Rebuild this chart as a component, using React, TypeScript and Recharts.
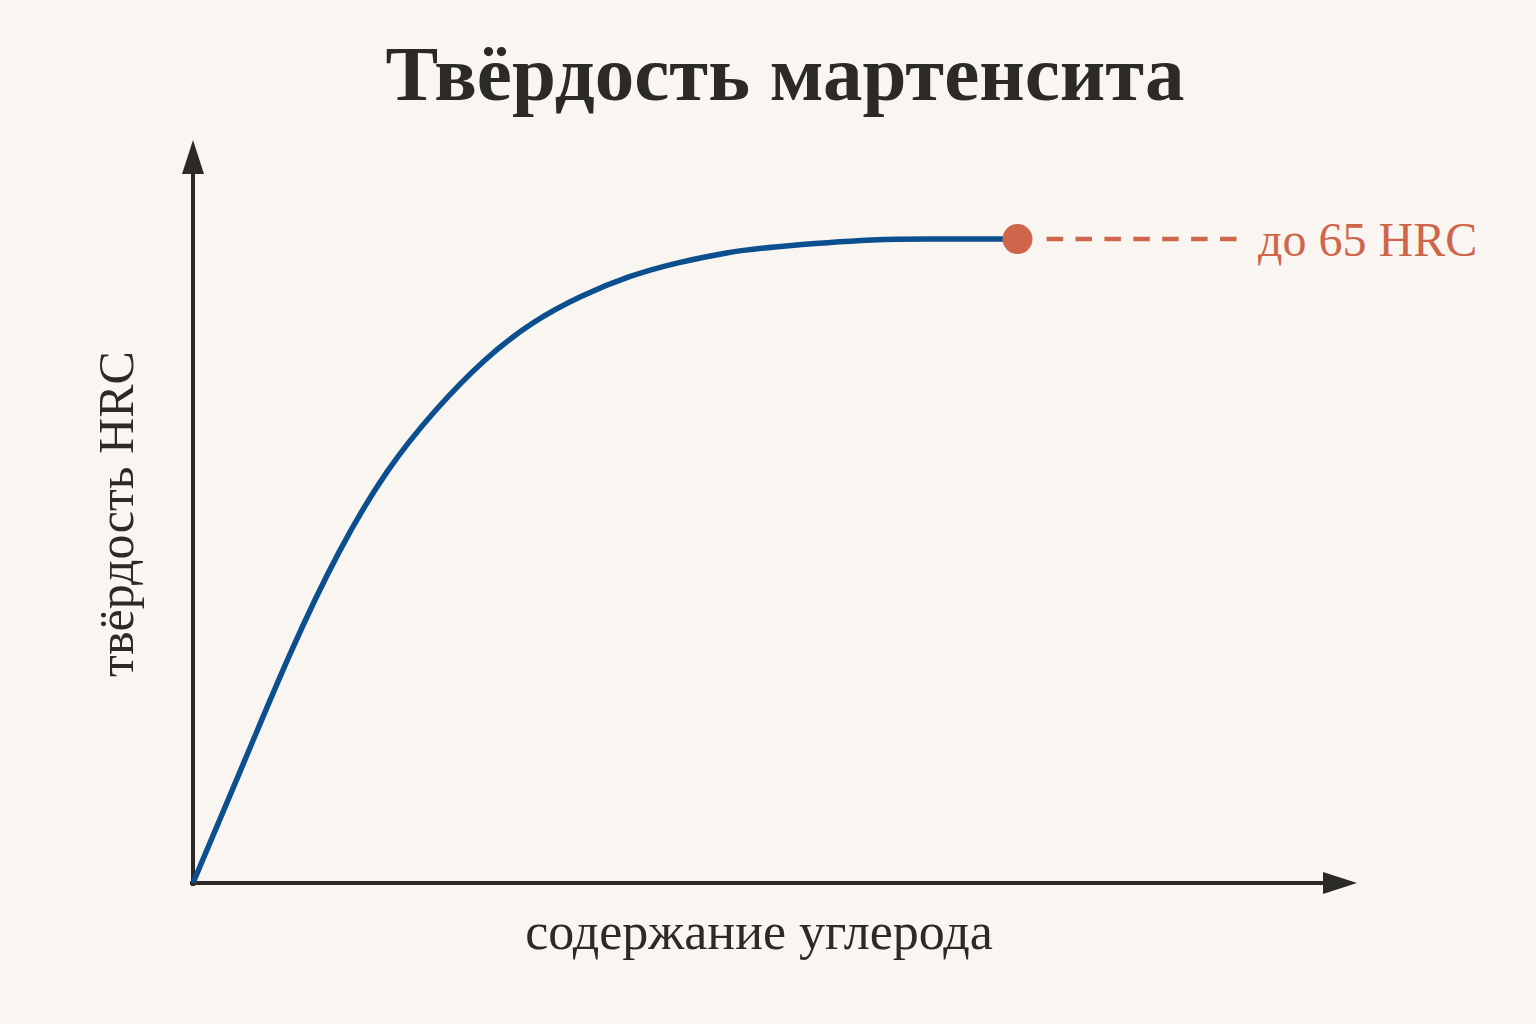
import { ComposedChart, Line, XAxis, YAxis, ReferenceLine, ReferenceDot } from "recharts";

// carbon content (%) vs martensite hardness (HRC)
const carbon = [0, 0.05, 0.1, 0.15, 0.2, 0.25, 0.3, 0.35, 0.4, 0.45, 0.5, 0.55, 0.6, 0.7, 0.78, 0.85];
const hardness = [0, 11.6, 23.1, 33.3, 41.5, 47.7, 52.7, 56.5, 59.2, 61.2, 62.6, 63.6, 64.2, 64.9, 65, 65];

const xDomain = [0, 1.2];
const yDomain = [0, 75];
const maxPoint = { x: 0.85, y: 65 };
const dashStart = 0.88;
const dashEnd = 1.077;
const labelX = 1.098;
const maxLabel = "до 65 HRC";

const title = "Твёрдость мартенсита";
const xTitle = "содержание углерода";
const yTitle = "твёрдость HRC";

const data = carbon.map((c, i) => ({ c, hrc: hardness[i] }));

const BG = "#f9f6f1";
const INK = "#2b2a27";
const BLUE = "#0c4f8f";
const RED = "#cf664b";
const FONT = "'Liberation Serif', 'DejaVu Serif', serif";

// axis line with a filled arrow head at its far end
const ArrowAxis = (props: any) => {
  const { x1, y1, x2, y2 } = props;
  const dx = x2 - x1;
  const dy = y2 - y1;
  const len = Math.sqrt(dx * dx + dy * dy) || 1;
  const ux = dx / len;
  const uy = dy / len;
  const head = 34;
  const half = 11;
  const bx = x2 - ux * head;
  const by = y2 - uy * head;
  const pts = `${x2},${y2} ${bx - uy * half},${by + ux * half} ${bx + uy * half},${by - ux * half}`;
  return (
    <g>
      <line x1={x1 - ux * 3} y1={y1 - uy * 3} x2={bx} y2={by} stroke={INK} strokeWidth={4} />
      <polygon points={pts} fill={INK} />
    </g>
  );
};

const MaxText = (props: any) => (
  <text x={props.cx} y={props.cy + 17} fill={RED} fontSize={48} fontFamily={FONT}>
    {maxLabel}
  </text>
);

export default function App() {
  return (
    <div style={{ position: "absolute", left: 0, top: 0, width: 1536, height: 1024, background: BG }}>
      <ComposedChart
        width={1536}
        height={1024}
        data={data}
        margin={{ top: 140, right: 179, bottom: 141, left: 193 }}
      >
        <XAxis type="number" dataKey="c" domain={xDomain} hide />
        <YAxis type="number" domain={yDomain} hide />
        <ReferenceLine
          segment={[{ x: 0, y: 0 }, { x: 0, y: yDomain[1] }]}
          ifOverflow="visible"
          shape={ArrowAxis}
        />
        <ReferenceLine
          segment={[{ x: 0, y: 0 }, { x: xDomain[1], y: 0 }]}
          ifOverflow="visible"
          shape={ArrowAxis}
        />
        <Line
          type="natural"
          dataKey="hrc"
          stroke={BLUE}
          strokeWidth={5.5}
          dot={false}
          isAnimationActive={false}
        />
        <ReferenceLine
          segment={[{ x: dashStart, y: maxPoint.y }, { x: dashEnd, y: maxPoint.y }]}
          stroke={RED}
          strokeWidth={4.5}
          strokeDasharray="16.5 12.4"
          ifOverflow="visible"
        />
        <ReferenceDot x={maxPoint.x} y={maxPoint.y} r={15} fill={RED} stroke="none" ifOverflow="visible" />
        <ReferenceDot x={labelX} y={maxPoint.y} r={0} ifOverflow="visible" shape={MaxText} />
      </ComposedChart>
      <svg
        width={1536}
        height={1024}
        style={{ position: "absolute", left: 0, top: 0, pointerEvents: "none" }}
      >
        <text x={785} y={100} textAnchor="middle" fontSize={79} fontWeight="bold" fontFamily={FONT} fill={INK}>
          {title}
        </text>
        <text x={759} y={949} textAnchor="middle" fontSize={52} fontFamily={FONT} fill={INK}>
          {xTitle}
        </text>
        <text
          x={0}
          y={0}
          transform="translate(133,514) rotate(-90)"
          textAnchor="middle"
          fontSize={50}
          fontFamily={FONT}
          fill={INK}
        >
          {yTitle}
        </text>
      </svg>
    </div>
  );
}
